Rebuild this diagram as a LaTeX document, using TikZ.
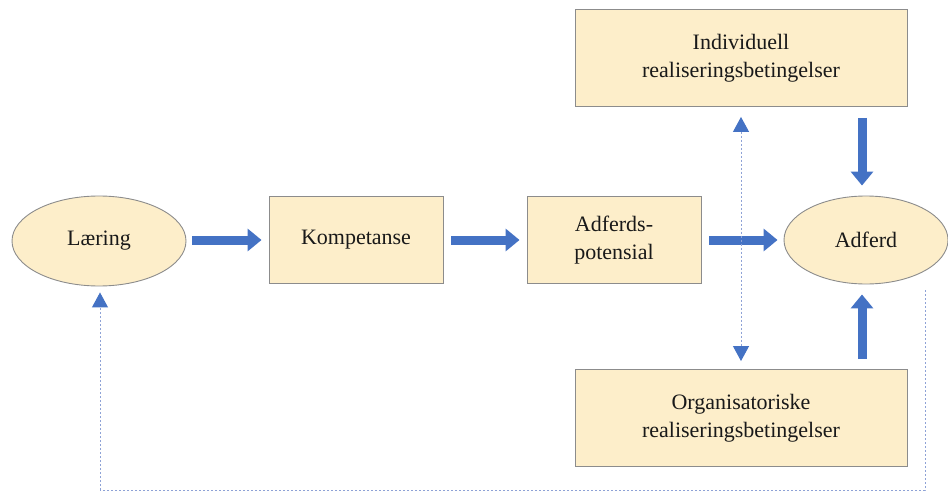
\documentclass[tikz,border=0pt]{standalone}
\usepackage{fontspec}
\setmainfont{Liberation Serif}
\usetikzlibrary{arrows.meta,shapes.geometric}
\definecolor{boxfill}{HTML}{FDEECA}
\definecolor{boxline}{HTML}{8C8C8C}
\definecolor{flow}{HTML}{4472C4}
\definecolor{dots}{HTML}{8EA2D6}
\tikzset{
  lbl/.style={font=\fontsize{22}{28}\selectfont, text=black!90, align=center},
  oval/.style={lbl, ellipse, draw=boxline, fill=boxfill, line width=0.9pt, inner sep=0pt},
  box/.style={lbl, rectangle, draw=boxline, fill=boxfill, line width=0.9pt, inner sep=0pt},
  bigarrow/.style={draw=flow, line width=9pt, -{Triangle[length=14pt,width=22pt,color=flow]}},
  dotline/.style={draw=dots, line width=1pt, dash pattern=on 2pt off 2pt},
  dotarrow/.style={dotline, {Triangle[length=15pt,width=16pt,color=flow]}-{Triangle[length=15pt,width=16pt,color=flow]}},
  dotarrowup/.style={dotline, -{Triangle[length=15pt,width=16pt,color=flow]}}
}
\begin{document}
\begin{tikzpicture}[x=1pt,y=-1pt]
\useasboundingbox (0,0) rectangle (948,492);
\begin{scope}
\clip (0,0) rectangle (948,492);
% main chain
\node[oval, minimum width=174pt, minimum height=90pt] (lae) at (99,241) {Læring};
\node[box, minimum width=174pt, minimum height=87pt] (komp) at (356,240) {Kompetanse};
\node[box, minimum width=174pt, minimum height=87pt] (pot) at (614,240) {Adferds-\\potensial};
\node[oval, minimum width=164pt, minimum height=88pt] (adf) at (866,240) {Adferd};
% conditions
\node[box, minimum width=332pt, minimum height=97pt] (ind) at (741,58) {Individuell\\realiseringsbetingelser};
\node[box, minimum width=332pt, minimum height=97pt] (org) at (741,418) {Organisatoriske\\realiseringsbetingelser};
% thick flow arrows
\draw[bigarrow, shorten <=6pt, shorten >=7pt] (lae.east |- 0,240) -- (komp.west);
\draw[bigarrow, shorten <=8pt, shorten >=7pt] (komp.east) -- (pot.west);
\draw[bigarrow, shorten <=8pt, shorten >=6pt] (pot.east) -- (adf.west);
\draw[bigarrow, shorten <=11pt, shorten >=10pt] (ind.south -| 862,0) -- (adf.north -| 862,0);
\draw[bigarrow, shorten <=10pt, shorten >=10pt] (org.north -| 862,0) -- (adf.south -| 862,0);
% dotted links
\draw[dotarrow, shorten <=10pt, shorten >=8pt] (ind.south) -- (org.north);
\coordinate (bl) at (100,490);
\coordinate (br) at (925,490);
\coordinate (rt) at (925,290);
\draw[dotline] (rt) -- (br) -- (bl);
\draw[dotarrowup, shorten >=6pt] (bl) -- (lae.south -| bl);
\end{scope}
\end{tikzpicture}
\end{document}
